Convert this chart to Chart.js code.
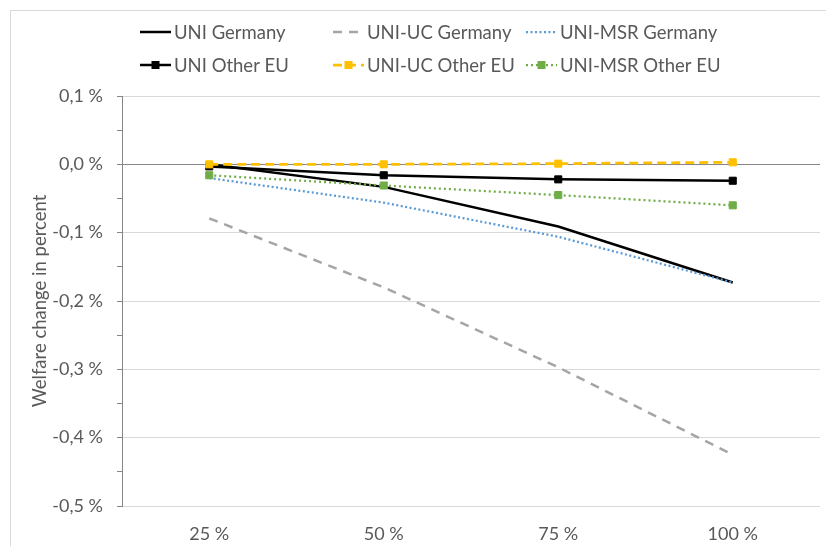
<!DOCTYPE html>
<html><head><meta charset="utf-8">
<script src="https://cdn.jsdelivr.net/npm/chart.js@4"></script>
<style>
html,body{margin:0;padding:0;background:#fff;}
#wrap{position:relative;width:826px;height:546px;overflow:hidden;}
#frame{position:absolute;left:10px;top:10px;width:900px;height:600px;border:1px solid #d9d9d9;}
canvas{position:absolute;left:0;top:0;}
</style></head><body>
<div id="wrap"><div id="frame"></div><canvas id="c" width="826" height="546"></canvas></div>
<script>
// ---- data ----
const categories = ['25 %', '50 %', '75 %', '100 %'];
const seriesNames = ['UNI Germany', 'UNI-UC Germany', 'UNI-MSR Germany', 'UNI Other EU', 'UNI-UC Other EU', 'UNI-MSR Other EU'];
const uniGermany    = [0.000, -0.033, -0.091, -0.173];
const uniUcGermany  = [-0.079, -0.180, -0.297, -0.425];
const uniMsrGermany = [-0.020, -0.056, -0.106, -0.173];
const uniOtherEU    = [-0.003, -0.016, -0.022, -0.024];
const uniUcOtherEU  = [0.000, 0.000, 0.001, 0.003];
const uniMsrOtherEU = [-0.016, -0.031, -0.045, -0.060];
const yMin = -0.5, yMax = 0.1, yMinorStep = 0.05;
const yAxisTitle = 'Welfare change in percent';

const FONT = 'Lato';
const TXT = '#595959';

function mk(label, data, color, width, dash, marker) {
  return {
    label, data,
    borderColor: color, backgroundColor: color,
    borderWidth: width, borderDash: dash,
    pointStyle: 'rect', pointRadius: marker ? 5 : 0, pointHoverRadius: marker ? 5 : 0,
    pointBorderWidth: 1, pointBorderColor: color, pointBackgroundColor: color,
    tension: 0, fill: false
  };
}
const datasets = [
  mk(seriesNames[0], uniGermany,    '#000000', 2.5, [], false),
  mk(seriesNames[1], uniUcGermany,  '#A5A5A5', 2.5, [9, 7], false),
  mk(seriesNames[2], uniMsrGermany, '#5B9BD5', 2.25, [2, 2.5], false),
  mk(seriesNames[3], uniOtherEU,    '#000000', 2.5, [], true),
  mk(seriesNames[4], uniUcOtherEU,  '#FFC000', 2.75, [9, 5], true),
  mk(seriesNames[5], uniMsrOtherEU, '#70AD47', 2.25, [2, 3], true)
];
datasets.forEach((d, i) => d.order = datasets.length - i);

const legendPlugin = {
  id: 'excelLegend',
  afterDraw(chart) {
    const ctx = chart.ctx;
    const cols = [140, 333, 526];
    const rows = [32, 65];
    chart.data.datasets.forEach((ds, i) => {
      const x = cols[i % 3], y = rows[Math.floor(i / 3)];
      ctx.save();
      ctx.strokeStyle = ds.borderColor;
      ctx.lineWidth = ds.borderWidth;
      ctx.setLineDash(ds.borderDash || []);
      ctx.beginPath(); ctx.moveTo(x, y); ctx.lineTo(x + 31, y); ctx.stroke();
      ctx.setLineDash([]);
      if (ds.pointRadius > 0) {
        ctx.fillStyle = ds.pointBackgroundColor;
        ctx.fillRect(x + 15.5 - 4, y - 4, 8, 8);
      }
      ctx.fillStyle = TXT;
      ctx.font = '18.5px ' + FONT;
      ctx.textBaseline = 'middle';
      ctx.textAlign = 'left';
      ctx.fillText(ds.label, x + 34, y + 1);
      ctx.restore();
    });
  }
};

function isMajor(v) { return Math.abs(Math.round(v * 10) - v * 10) < 1e-6; }

new Chart(document.getElementById('c'), {
  type: 'line',
  data: { labels: categories, datasets },
  plugins: [legendPlugin],
  options: {
    responsive: false,
    animation: false,
    layout: { padding: { left: 0, right: 0, top: 96, bottom: 0 } },
    plugins: { legend: { display: false }, tooltip: { enabled: false } },
    scales: {
      x: {
        type: 'category',
        offset: true,
        grid: { display: false },
        border: { display: false },
        ticks: { color: TXT, font: { family: FONT, size: 18 }, padding: 9, maxRotation: 0 },
        afterFit(s) { s.height = 40; }
      },
      y: {
        min: yMin, max: yMax,
        afterBuildTicks(s) {
          const t = [];
          const n = Math.round((yMax - yMin) / yMinorStep);
          for (let k = 0; k <= n; k++) t.push({ value: Math.round((yMin + k * yMinorStep) * 1000) / 1000 });
          s.ticks = t;
        },
        grid: {
          color: c => {
            const v = c.tick ? c.tick.value : null;
            if (v === null) return 'rgba(0,0,0,0)';
            if (Math.abs(v) < 1e-9) return '#868686';
            return isMajor(v) ? '#d9d9d9' : 'rgba(0,0,0,0)';
          },
          lineWidth: 1,
          tickColor: '#868686',
          tickLength: 5,
          drawTicks: true
        },
        border: { display: true, color: '#868686', width: 1 },
        ticks: {
          autoSkip: false,
          color: TXT,
          font: { family: FONT, size: 18 },
          padding: 14,
          callback: v => {
            if (!isMajor(v)) return '';
            const r = Math.round(v * 10) / 10;
            return (Object.is(r, -0) ? 0 : r).toFixed(1).replace('.', ',') + ' %';
          }
        },
        title: {
          display: true, text: yAxisTitle, color: TXT,
          font: { family: FONT, size: 18.5 }, padding: { top: 29, bottom: 0 }
        },
        afterFit(s) { s.width = 122; }
      }
    }
  }
});
</script>
</body></html>
